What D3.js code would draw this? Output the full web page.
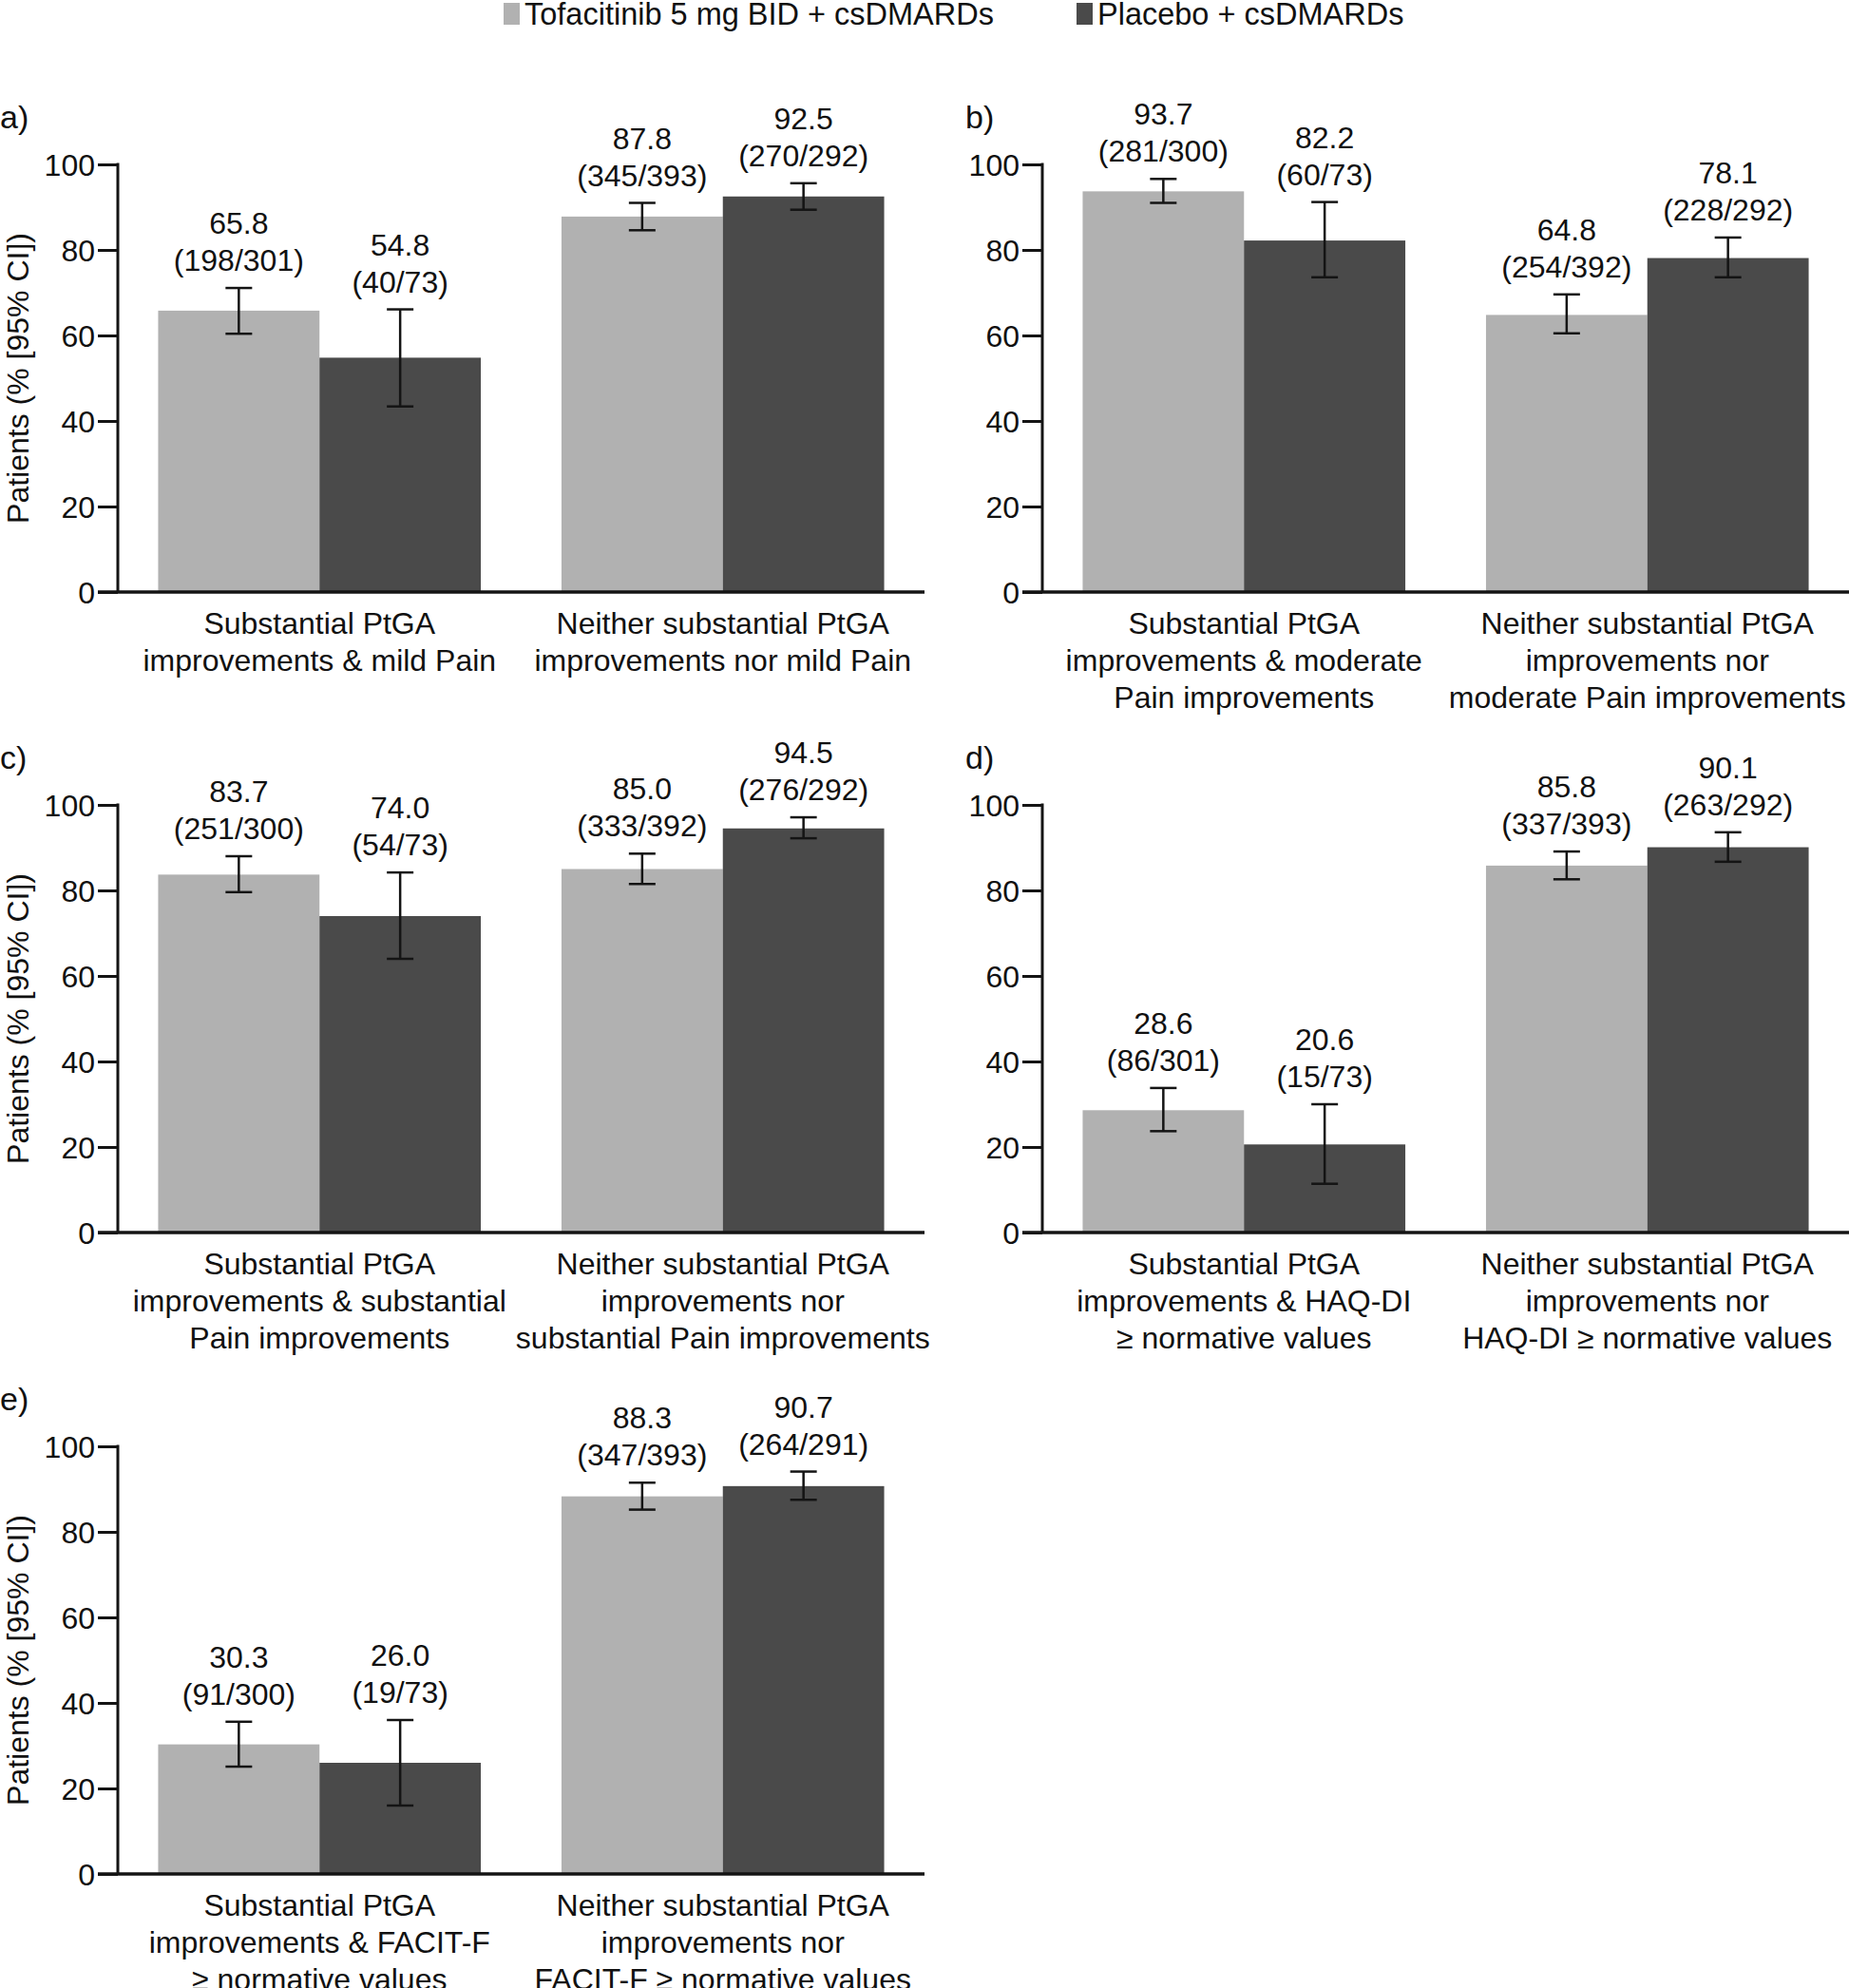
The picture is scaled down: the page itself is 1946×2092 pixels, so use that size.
<!DOCTYPE html>
<html>
<head>
<meta charset="utf-8">
<script src="https://cdn.jsdelivr.net/npm/d3@7"></script>
<style>
  html, body { margin: 0; padding: 0; background: #fff; }
  svg { display: block; font-family: "Liberation Sans", Arial, Helvetica, sans-serif; }
</style>
</head>
<body>
<svg id="chart" width="1946" height="2092"></svg>
<script>
// ---------------- DATA ----------------
const seriesNames = ["Tofacitinib 5 mg BID + csDMARDs", "Placebo + csDMARDs"];
const panelLetters = ["a)", "b)", "c)", "d)", "e)"];
const categoryLabels = [
  [["Substantial PtGA", "improvements & mild Pain"], ["Neither substantial PtGA", "improvements nor mild Pain"]],
  [["Substantial PtGA", "improvements & moderate", "Pain improvements"], ["Neither substantial PtGA", "improvements nor", "moderate Pain improvements"]],
  [["Substantial PtGA", "improvements & substantial", "Pain improvements"], ["Neither substantial PtGA", "improvements nor", "substantial Pain improvements"]],
  [["Substantial PtGA", "improvements & HAQ-DI", "\u2265 normative values"], ["Neither substantial PtGA", "improvements nor", "HAQ-DI \u2265 normative values"]],
  [["Substantial PtGA", "improvements & FACIT-F", "\u2265 normative values"], ["Neither substantial PtGA", "improvements nor", "FACIT-F \u2265 normative values"]]
];
// per panel: [category 1, category 2]
const tofaValues = [[65.8, 87.8], [93.7, 64.8], [83.7, 85.0], [28.6, 85.8], [30.3, 88.3]];
const placeboValues = [[54.8, 92.5], [82.2, 78.1], [74.0, 94.5], [20.6, 90.1], [26.0, 90.7]];
const tofaCounts = [["198/301", "345/393"], ["281/300", "254/392"], ["251/300", "333/392"], ["86/301", "337/393"], ["91/300", "347/393"]];
const placeboCounts = [["40/73", "270/292"], ["60/73", "228/292"], ["54/73", "276/292"], ["15/73", "263/292"], ["19/73", "264/291"]];
const tofaCILow = [[60.4, 84.6], [91.0, 60.5], [79.6, 81.5], [23.7, 82.6], [25.1, 85.2]];
const tofaCIHigh = [[71.1, 91.0], [96.6, 69.6], [88.0, 88.6], [33.8, 89.1], [35.6, 91.5]];
const placeboCILow = [[43.4, 89.4], [73.6, 73.6], [64.0, 92.2], [11.4, 86.7], [16.0, 87.5]];
const placeboCIHigh = [[66.1, 95.6], [91.2, 82.9], [84.2, 97.1], [30.0, 93.6], [36.0, 94.1]];
const yTicks = [0, 20, 40, 60, 80, 100];
const yTitle = "Patients (% [95% CI])";

// ---------------- LAYOUT ----------------
const svg = d3.select("#chart");
const colors = ["#b1b1b1", "#4a4a4a"];
const axisColor = "#141414";
const FS = 32;
const colX = [124, 1097];
const rowTop = [173, 847, 1522];
const plotW = 849, plotH = 450;

// Legend
const legendX = [530, 1133];
seriesNames.forEach((name, i) => {
  svg.append("rect").attr("x", legendX[i]).attr("y", 3).attr("width", 17).attr("height", 23).attr("fill", colors[i]);
  svg.append("text").attr("x", legendX[i] + 22).attr("y", 26).attr("font-size", 32.5).attr("fill", "#111").text(name);
});

panelLetters.forEach((letter, p) => {
  const col = p % 2, row = Math.floor(p / 2);
  const x0 = colX[col], y0 = rowTop[row];
  const g = svg.append("g").attr("transform", `translate(${x0},${y0})`);

  const cats = categoryLabels[p].map((_, i) => "c" + i);
  const x = d3.scaleBand().domain(cats).range([0, plotW]).paddingInner(0.2).paddingOuter(0.1);
  const xs = d3.scaleBand().domain([0, 1]).range([0, x.bandwidth()]);
  const y = d3.scaleLinear().domain([0, 100]).range([plotH, 0]);

  const data = [];
  cats.forEach((c, ci) => {
    data.push({c, s: 0, v: tofaValues[p][ci], lo: tofaCILow[p][ci], hi: tofaCIHigh[p][ci], n: tofaCounts[p][ci]});
    data.push({c, s: 1, v: placeboValues[p][ci], lo: placeboCILow[p][ci], hi: placeboCIHigh[p][ci], n: placeboCounts[p][ci]});
  });

  g.selectAll("rect.bar").data(data).enter().append("rect")
    .attr("class", "bar")
    .attr("x", d => x(d.c) + xs(d.s))
    .attr("y", d => y(d.v))
    .attr("width", xs.bandwidth())
    .attr("height", d => y(0) - y(d.v))
    .attr("fill", d => colors[d.s]);

  // error bars
  const capW = 14;
  const eb = g.selectAll("g.eb").data(data).enter().append("g").attr("class", "eb")
    .attr("transform", d => `translate(${x(d.c) + xs(d.s) + xs.bandwidth() / 2},0)`);
  eb.append("line").attr("x1", 0).attr("x2", 0).attr("y1", d => y(d.lo)).attr("y2", d => y(d.hi))
    .attr("stroke", axisColor).attr("stroke-width", 2.5);
  eb.append("line").attr("x1", -capW).attr("x2", capW).attr("y1", d => y(d.hi)).attr("y2", d => y(d.hi))
    .attr("stroke", axisColor).attr("stroke-width", 2.5);
  eb.append("line").attr("x1", -capW).attr("x2", capW).attr("y1", d => y(d.lo)).attr("y2", d => y(d.lo))
    .attr("stroke", axisColor).attr("stroke-width", 2.5);
  // value labels
  eb.append("text").attr("text-anchor", "middle").attr("font-size", FS).attr("fill", "#111")
    .attr("y", d => y(d.hi) - 18).text(d => "(" + d.n + ")");
  eb.append("text").attr("text-anchor", "middle").attr("font-size", FS).attr("fill", "#111")
    .attr("y", d => y(d.hi) - 57).text(d => d.v.toFixed(1));

  // y axis
  const yAxis = d3.axisLeft(y).tickValues(yTicks).tickSize(21).tickPadding(3).tickFormat(d3.format("d"));
  const ya = g.append("g").call(yAxis);
  ya.select(".domain").remove();
  ya.selectAll(".tick line").attr("stroke", axisColor).attr("stroke-width", 3);
  ya.selectAll(".tick text").attr("font-size", FS).attr("fill", "#111").attr("font-family", "Liberation Sans, Arial, sans-serif").attr("dy", "0.35em");
  g.append("line").attr("x1", 0).attr("x2", 0).attr("y1", y(100) - 1.5).attr("y2", y(0))
    .attr("stroke", axisColor).attr("stroke-width", 3);
  // baseline
  g.append("line").attr("x1", -21).attr("x2", plotW).attr("y1", y(0)).attr("y2", y(0))
    .attr("stroke", axisColor).attr("stroke-width", 3.5);

  // category labels
  cats.forEach((c, ci) => {
    const t = g.append("text").attr("text-anchor", "middle").attr("font-size", FS).attr("fill", "#111")
      .attr("x", x(c) + x.bandwidth() / 2);
    categoryLabels[p][ci].forEach((line, li) => {
      t.append("tspan").attr("x", x(c) + x.bandwidth() / 2).attr("y", plotH + 44 + li * 39).text(line);
    });
  });

  // panel letter
  svg.append("text").attr("x", col === 0 ? 0 : 1016).attr("y", y0 - 38).attr("font-size", 34).attr("fill", "#111").text(letter);

  // y title
  if (col === 0) {
    svg.append("text").attr("transform", `translate(30,${y0 + plotH / 2}) rotate(-90)`)
      .attr("text-anchor", "middle").attr("font-size", FS).attr("fill", "#111").text(yTitle);
  }
});
</script>
</body>
</html>
